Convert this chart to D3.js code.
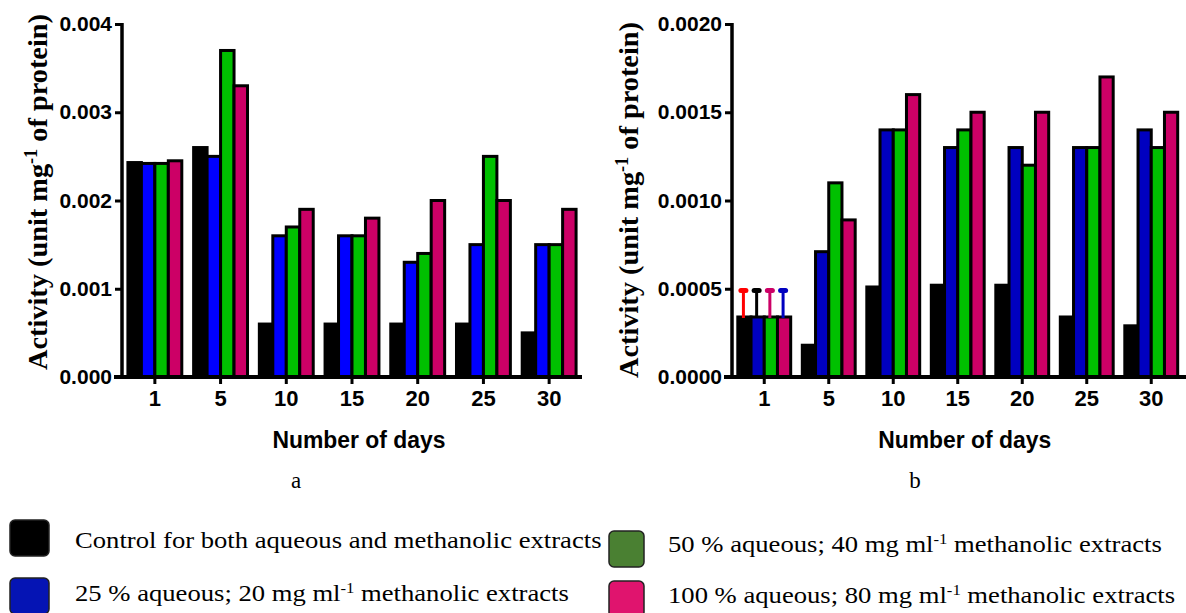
<!DOCTYPE html>
<html>
<head>
<meta charset="utf-8">
<script src="https://cdn.jsdelivr.net/npm/d3@7"></script>
<style>
  html, body { margin: 0; padding: 0; background: #fff; }
  svg { display: block; }
  .tick text { font-family: "Liberation Sans", Arial, sans-serif; font-weight: bold; }
</style>
</head>
<body>
<svg id="chart" width="1186" height="613"></svg>
<script>
// Sampling days
const days = ["1", "5", "10", "15", "20", "25", "30"];
const seriesNames = ["control", "low", "mid", "high"];

// Panel a: activity (unit mg-1 of protein)
const aControl = [0.00243, 0.0026, 0.0006, 0.0006, 0.0006, 0.0006, 0.0005];
const aLow     = [0.00242, 0.0025, 0.0016, 0.0016, 0.0013, 0.0015, 0.0015];
const aMid     = [0.00242, 0.0037, 0.0017, 0.0016, 0.0014, 0.0025, 0.0015];
const aHigh    = [0.00245, 0.0033, 0.0019, 0.0018, 0.0020, 0.0020, 0.0019];
const aTicks   = [0, 0.001, 0.002, 0.003, 0.004];

// Panel b: activity (unit mg-1 of protein)
const bControl = [0.00034, 0.00018, 0.00051, 0.00052, 0.00052, 0.00034, 0.00029];
const bLow     = [0.00034, 0.00071, 0.0014, 0.0013, 0.0013, 0.0013, 0.0014];
const bMid     = [0.00034, 0.0011, 0.0014, 0.0014, 0.0012, 0.0013, 0.0013];
const bHigh    = [0.00034, 0.00089, 0.0016, 0.0015, 0.0015, 0.0017, 0.0015];
const bTicks   = [0, 0.0005, 0.0010, 0.0015, 0.0020];
// Day-1 error bars in panel b (upper limit per series)
const bErrTop    = [0.00049, 0.00049, 0.00049, 0.00049];
const bErrColors = ["#ff0000", "#000000", "#cc0066", "#0000c0"];

const legendLabels = [
  ["Control for both aqueous and methanolic extracts"],
  ["25 % aqueous; 20 mg ml", "-1", " methanolic extracts"],
  ["50 % aqueous; 40 mg ml", "-1", " methanolic extracts"],
  ["100 % aqueous; 80 mg ml", "-1", " methanolic extracts"]
];
const legendColors = ["#000000", "#0514b4", "#4a8032", "#e0146e"];

const svg = d3.select("#chart");

function drawPanel(cfg) {
  const g = svg.append("g");
  const x = d3.scaleBand().domain(days).range([cfg.left, cfg.right])
    .paddingInner(0.18).paddingOuter(0.09);
  const xs = d3.scaleBand().domain(seriesNames).range([0, x.bandwidth()]);
  const y = d3.scaleLinear().domain(cfg.domain).range([377, 24]);

  const rows = days.map((d, i) => ({
    day: d,
    vals: cfg.series.map((s, j) => ({ key: seriesNames[j], v: s[i], color: cfg.colors[j] }))
  }));

  const groups = g.selectAll("g.grp").data(rows).join("g")
    .attr("transform", d => `translate(${x(d.day)},0)`);
  groups.selectAll("rect").data(d => d.vals).join("rect")
    .attr("x", d => xs(d.key))
    .attr("width", xs.bandwidth())
    .attr("y", d => y(d.v))
    .attr("height", d => y(0) - y(d.v))
    .attr("fill", d => d.color)
    .attr("stroke", "#000")
    .attr("stroke-width", 3);

  if (cfg.errTop) {
    const eg = g.append("g").attr("transform", `translate(${x(days[0])},0)`);
    cfg.errTop.forEach((e, j) => {
      const cx = xs(seriesNames[j]) + xs.bandwidth() / 2 - 1;
      const base = cfg.series[j][0];
      eg.append("line")
        .attr("x1", cx).attr("x2", cx)
        .attr("y1", y(base) + 1).attr("y2", y(e))
        .attr("stroke", cfg.errColors[j]).attr("stroke-width", 3);
      eg.append("line")
        .attr("x1", cx - 2.5).attr("x2", cx + 2.5)
        .attr("y1", y(e)).attr("y2", y(e))
        .attr("stroke", cfg.errColors[j]).attr("stroke-width", 5)
        .attr("stroke-linecap", "round");
    });
  }

  // y axis
  const ya = g.append("g").attr("transform", `translate(${cfg.left},0)`)
    .call(d3.axisLeft(y).tickValues(cfg.ticks).tickFormat(d3.format(cfg.fmt))
      .tickSize(7).tickSizeOuter(0).tickPadding(3));
  ya.select(".domain").attr("stroke-width", 3.5).attr("d", `M0,${y(0)}V${y(cfg.domain[1]) - 1}`);
  ya.selectAll(".tick line").attr("stroke-width", 3);
  ya.selectAll(".tick text").attr("font-size", 21).attr("fill", "#000");

  // x axis
  const xa = g.append("g").attr("transform", `translate(0,${y(0)})`)
    .call(d3.axisBottom(x).tickSize(7).tickSizeOuter(0).tickPadding(6));
  xa.select(".domain").attr("stroke-width", 4).attr("d", `M${cfg.left - 8},0H${cfg.axisEnd}`);
  xa.selectAll(".tick line").attr("stroke-width", 3);
  xa.selectAll(".tick text").attr("font-size", 22).attr("fill", "#000");

  // axis titles
  g.append("text")
    .attr("x", (cfg.left + cfg.right) / 2 + 7).attr("y", 448)
    .attr("text-anchor", "middle")
    .attr("font-family", "Liberation Sans, Arial, sans-serif")
    .attr("font-weight", "bold").attr("font-size", 24)
    .attr("textLength", 173).attr("lengthAdjust", "spacingAndGlyphs")
    .text("Number of days");

  const yt = g.append("text")
    .attr("transform", `translate(${cfg.titleX},${cfg.titleY}) rotate(-90)`)
    .attr("text-anchor", "middle")
    .attr("font-family", "Liberation Serif, 'Times New Roman', serif")
    .attr("font-weight", "bold").attr("font-size", 28)
    .attr("textLength", 356).attr("lengthAdjust", "spacingAndGlyphs");
  yt.append("tspan").text("Activity (unit mg");
  yt.append("tspan").attr("baseline-shift", "super").attr("font-size", 18).text("-1");
  yt.append("tspan").text(" of protein)");

  g.append("text")
    .attr("x", cfg.panelX).attr("y", 488)
    .attr("text-anchor", "middle")
    .attr("font-family", "Liberation Serif, 'Times New Roman', serif")
    .attr("font-size", 23)
    .text(cfg.panel);
}

drawPanel({
  left: 122, right: 582, axisEnd: 582,
  domain: [0, 0.004], ticks: aTicks, fmt: ".3f",
  series: [aControl, aLow, aMid, aHigh],
  colors: ["#000000", "#0000ff", "#00c000", "#cc0066"],
  titleX: 47, titleY: 192, panelX: 296, panel: "a"
});

drawPanel({
  left: 732, right: 1183.5, axisEnd: 1186,
  domain: [0, 0.002], ticks: bTicks, fmt: ".4f",
  series: [bControl, bLow, bMid, bHigh],
  colors: ["#000000", "#0000c0", "#00c000", "#cc0066"],
  errTop: bErrTop, errColors: bErrColors,
  titleX: 638, titleY: 200, panelX: 915, panel: "b"
});

// Legend: swatches and labels (labels set in Times, slightly widened)
const legendPos = [
  { sx: 10, sy: 520, sw: 39, tx: 75, ty: 548 },
  { sx: 10, sy: 578, sw: 39, tx: 75, ty: 601 },
  { sx: 609, sy: 531, sw: 35, tx: 668, ty: 552 },
  { sx: 609, sy: 581, sw: 35, tx: 668, ty: 603 }
];
const lg = svg.append("g");
legendLabels.forEach((parts, i) => {
  const p = legendPos[i];
  lg.append("rect")
    .attr("x", p.sx).attr("y", p.sy).attr("width", p.sw).attr("height", 36)
    .attr("rx", 5).attr("ry", 5)
    .attr("fill", legendColors[i]).attr("stroke", "#222").attr("stroke-width", 1.5);
  const t = lg.append("text")
    .attr("transform", `translate(${p.tx},${p.ty}) scale(1.11,1)`)
    .attr("font-family", "Liberation Serif, 'Times New Roman', serif")
    .attr("font-size", 24).attr("fill", "#000");
  parts.forEach((s, k) => {
    const ts = t.append("tspan").text(s);
    if (k === 1) ts.attr("baseline-shift", "super").attr("font-size", 15);
  });
});
</script>
</body>
</html>
